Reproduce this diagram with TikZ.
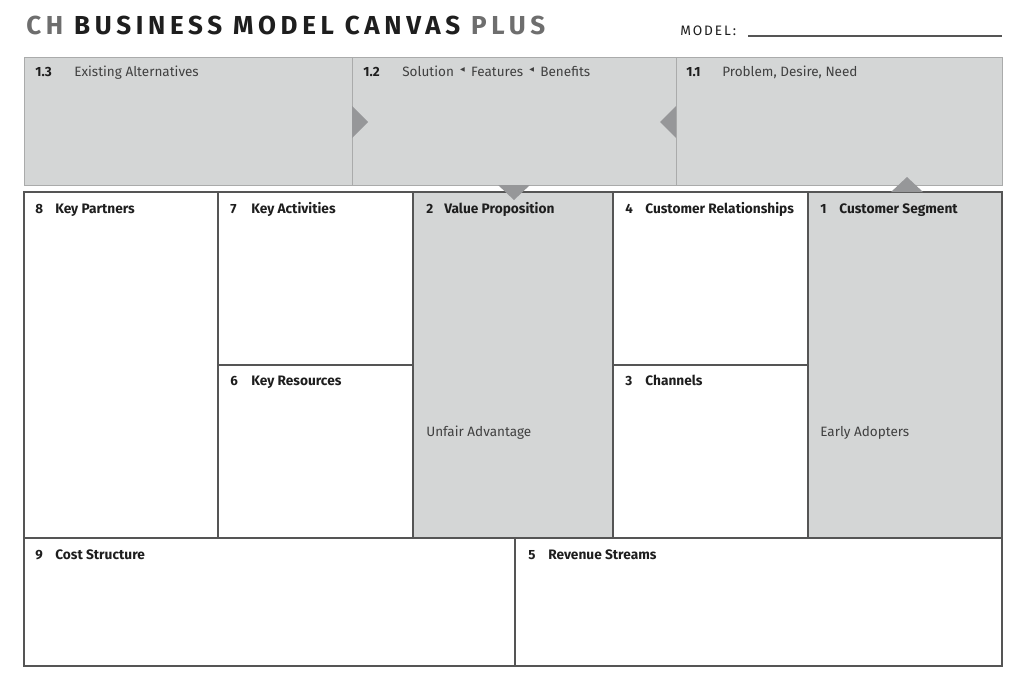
\documentclass[tikz,border=0pt]{standalone}
\usepackage{fontspec}
\setmainfont{Fira Sans}
\newfontfamily\titlefont[LetterSpace=18]{Fira Sans}
\newfontfamily\modelfont[LetterSpace=14]{Fira Sans}
\newfontfamily\symfont{DejaVu Sans}

\definecolor{panel}{RGB}{212,214,214}
\definecolor{topline}{RGB}{170,171,171}
\definecolor{gridline}{RGB}{85,85,85}
\definecolor{marker}{RGB}{150,151,153}
\definecolor{titlegray}{RGB}{110,110,110}
\definecolor{ink}{RGB}{30,30,30}

\tikzset{
  topbox/.style={fill=panel, draw=topline, line width=0.5pt},
  gridbox/.style={draw=gridline, line width=0.7pt},
  marker/.style={fill=marker},
  num/.style={anchor=base west, inner sep=0pt, text=ink, font=\fontsize{7.6}{8}\selectfont\bfseries},
  head/.style={anchor=base west, inner sep=0pt, text=ink, font=\fontsize{7.8}{8}\selectfont\bfseries},
  plain/.style={anchor=base west, inner sep=0pt, text=ink!85, font=\fontsize{7.7}{8}\selectfont}
}
\newcommand{\tri}{\hspace{1.5pt}\raisebox{2.6pt}{\symfont\fontsize{3.5}{4}\selectfont\char"25C0}\hspace{1.5pt}}

\begin{document}
\begin{tikzpicture}[x=0.02cm, y=-0.02cm]
\useasboundingbox (0,0) rectangle (1024,683);

% title
\node[anchor=base west, inner sep=0pt, font=\titlefont\fontsize{14.8}{16}\selectfont\bfseries] (title) at (26,34)
  {\textcolor{titlegray}{CH} \textcolor{ink}{BUSINESS MODEL CANVAS} \textcolor{titlegray}{PLUS}};
\node[anchor=base west, inner sep=0pt, text=ink, font=\modelfont\fontsize{7.8}{8}\selectfont] (model) at (680,35) {MODEL:};
\coordinate (mline) at (1002,36);
\draw[gridline, line width=0.6pt] (748,36) -- (mline);

% top row
\draw[topbox] (24,57) rectangle (352,185);
\draw[topbox] (352,57) rectangle (676,185);
\draw[topbox] (676,57) rectangle (1002,185);

% main grid
\draw[gridbox, fill=panel] (413,192) rectangle (613,538);
\draw[gridbox, fill=panel] (808,192) rectangle (1002,538);
\draw[gridbox] (24,192) rectangle (218,538);
\draw[gridbox] (218,192) rectangle (413,365);
\draw[gridbox] (218,365) rectangle (413,538);
\draw[gridbox] (613,192) rectangle (808,365);
\draw[gridbox] (613,365) rectangle (808,538);
\draw[gridbox] (24,538) rectangle (515,666);
\draw[gridbox] (515,538) rectangle (1002,666);

% markers
\fill[marker] (352,106) -- (368,122) -- (352,138) -- cycle;
\fill[marker] (676,106) -- (660,122) -- (676,138) -- cycle;
\fill[marker] (498,185) -- (514,200) -- (530,185) -- cycle;
\fill[marker] (891,192) -- (907,177) -- (923,192) -- cycle;

% labels, top row
\node[num] (n13) at (35,76) {1.3};
\node[plain] (t13) at (74,76) {Existing Alternatives};
\node[num] (n12) at (363,76) {1.2};
\node[plain] (t12) at (402,76) {Solution \tri\ Features \tri\ Benefits};
\node[num] (n11) at (686,76) {1.1};
\node[plain] (t11) at (722,76) {Problem, Desire, Need};

% labels, grid
\node[num] (n8) at (35,213) {8};
\node[head] (t8) at (55,213) {Key Partners};
\node[num] (n7) at (230,213) {7};
\node[head] (t7) at (251,213) {Key Activities};
\node[num] (n2) at (426,213) {2};
\node[head] (t2) at (444,213) {Value Proposition};
\node[num] (n4) at (625,213) {4};
\node[head] (t4) at (645,213) {Customer Relationships};
\node[num] (n1) at (820,213) {1};
\node[head] (t1) at (839,213) {Customer Segment};
\node[num] (n6) at (230,385) {6};
\node[head] (t6) at (251,385) {Key Resources};
\node[num] (n3) at (625,385) {3};
\node[head] (t3) at (645,385) {Channels};
\node[plain] (ua) at (426,436) {Unfair Advantage};
\node[plain] (ea) at (820,436) {Early Adopters};
\node[num] (n9) at (35,559) {9};
\node[head] (t9) at (55,559) {Cost Structure};
\node[num] (n5) at (528,559) {5};
\node[head] (t5) at (548,559) {Revenue Streams};

\end{tikzpicture}
\end{document}
